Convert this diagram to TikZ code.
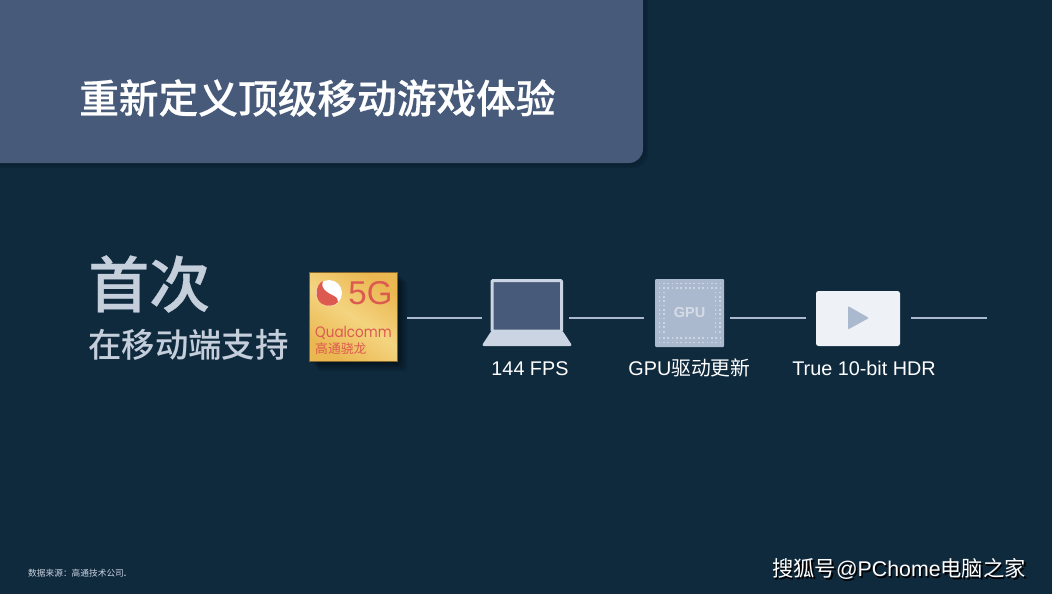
\documentclass[tikz,border=0pt]{standalone}
\usepackage{fontspec}
\setmainfont{Liberation Sans}
\newfontfamily\cjk{Noto Sans CJK SC}
\newfontfamily\cjkmed{Noto Sans CJK SC Medium}
\newfontfamily\cjkheavy{Noto Sans CJK SC Medium}[FakeBold=0.5]
\newfontfamily\logofont{Poppins}
\usetikzlibrary{positioning,calc}
\definecolor{slidebg}{HTML}{0F293D}
\definecolor{panelblue}{HTML}{475A7A}
\definecolor{railblue}{HTML}{ABB9CE}
\definecolor{palegrey}{HTML}{CBD4E2}
\definecolor{headgrey}{HTML}{C5CEDB}
\definecolor{chipred}{HTML}{DC5A50}
\definecolor{chipedge}{HTML}{EAB750}
\definecolor{chipmid}{HTML}{F4D480}
\definecolor{videowhite}{HTML}{EEF1F6}
\tikzset{
  caption/.style={text=white, font=\fontsize{19.8}{20}\selectfont, inner sep=0pt, text height=14pt, text depth=4pt},
  headline/.style={text=headgrey, inner sep=0pt, anchor=west},
  link/.style={draw=railblue, line width=2pt},
  softshadow/.style={fill=black, opacity=0.05, draw=none, rounded corners=2pt},
  gpudot/.style={fill=white, opacity=0.4},
}
\newcommand{\gpudotat}[2]{\fill[gpudot] (#1-0.9,#2-0.9) rectangle (#1+0.9,#2+0.9);}
\begin{document}
\begin{tikzpicture}[x=1pt, y=-1pt]
  \fill[slidebg] (0,0) rectangle (1052,594);
  \useasboundingbox (0,0) rectangle (1052,594);
  \coordinate (rail) at (0,318);

  % title panel
  \foreach \d in {1,3,5}
    \fill[black, opacity=0.08, rounded corners=14pt] (-30,-30) rectangle (643+\d,163+\d);
  \fill[panelblue, rounded corners=14pt] (-30,-30) rectangle (643,163);
  \node[anchor=west, text=white, inner sep=0pt, font=\fontsize{39.7}{40}\selectfont\cjkheavy] (title) at (79,98) {重新定义顶级移动游戏体验};

  % left text
  \node[headline, font=\fontsize{61}{61}\selectfont\cjkheavy] (first) at (88,284) {首次};
  \node[headline, font=\fontsize{33.4}{34}\selectfont\cjkmed] (support) at (88,345) {在移动端支持};

  % chip
  \foreach \d in {1,2,...,10}
    \fill[softshadow] (309+\d,272+\d) rectangle (397+\d,361+\d);
  \node[draw=chipedge!55!black, line width=0.6pt, minimum width=88pt, minimum height=89pt, inner sep=0pt,
    left color=chipedge, right color=chipedge, middle color=chipmid, shading angle=-35] (chip) at (353,316.5) {};
  \fill[white] (329,293) circle[radius=13];
  \fill[chipred] (323,281) .. controls (315,285) and (314,299) .. (322,304) .. controls (327,307) and (335,306) .. (338,302) .. controls (339,296) and (330,295) .. (327,292) .. controls (323,289) and (321,286) .. (323,281) -- cycle;
  \node[text=chipred, inner sep=0pt, font=\fontsize{33}{33}\selectfont] (fiveg) at (370.5,293) {5G};
  \node[text=chipred, inner sep=0pt, anchor=west, font=\fontsize{15.2}{16}\selectfont\logofont] (qualcomm) at (315,332.5) {\scalebox{0.89}[1]{Qualcomm}};
  \node[text=chipred, inner sep=0pt, anchor=west, font=\fontsize{12.8}{13}\selectfont\cjk] (snapdragon) at (315,349) {高通骁龙};

  % laptop
  \node[minimum width=90pt, minimum height=67pt, inner sep=0pt] (laptop) at (527,312.5) {};
  \draw[draw=palegrey, fill=panelblue, line width=3pt, rounded corners=1pt] (492,280.5) rectangle (561.5,331);
  \fill[palegrey, rounded corners=2.5pt] (492,330) -- (562,330) -- (572.5,346) -- (481.5,346) -- cycle;
  \node[caption, below=15pt of laptop.south, xshift=3pt] (fps) {144 FPS};

  % gpu
  \node[fill=railblue, rounded corners=1pt, minimum width=69pt, minimum height=68pt, inner sep=0pt] (gpu) at (689.5,313) {};
  \foreach \i in {0,...,14} {
    \gpudotat{659.5+\i*4.36}{283.5}
    \gpudotat{659.5+\i*4.36}{288}
    \gpudotat{659.5+\i*4.36}{338}
    \gpudotat{659.5+\i*4.36}{342.5}
  }
  \foreach \i in {0,...,9} {
    \gpudotat{659.5}{292.4+\i*4.36}
    \gpudotat{664}{292.4+\i*4.36}
    \gpudotat{715.5}{292.4+\i*4.36}
    \gpudotat{720}{292.4+\i*4.36}
  }
  \node[text=white, opacity=0.5, inner sep=0pt, font=\fontsize{14.5}{15}\selectfont\bfseries] (gpulabel) at (689.5,313) {GPU};
  \node[caption, below=14pt of gpu.south] (driver) {GPU{\cjk 驱动更新}};

  % video
  \node[fill=videowhite, rounded corners=2.5pt, minimum width=84pt, minimum height=55pt, inner sep=0pt] (video) at (858,318.5) {};
  \fill[railblue, rounded corners=1pt] (848,306) -- (869,318) -- (848,329.5) -- cycle;
  \node[caption, below=15pt of video.south, xshift=6pt] (hdr) {True 10-bit HDR};

  \coordinate (railend) at (987,318);
  \draw[link, shorten <=10pt, shorten >=0pt] (chip.east |- rail) -- (laptop.west |- rail);
  \draw[link, shorten <=-3pt, shorten >=11pt] (laptop.east |- rail) -- (gpu.west |- rail);
  \draw[link, shorten <=6pt, shorten >=10pt] (gpu.east |- rail) -- (video.west |- rail);
  \draw[link, shorten <=11pt] (video.east |- rail) -- (railend);

  % footer
  \node[anchor=west, text=palegrey, inner sep=0pt, font=\fontsize{8.7}{9}\selectfont\cjk] (source) at (28,573) {数据来源\char"FF1A 高通技术公司{\bfseries\rmfamily .}};
  \node[anchor=east, text=black, inner sep=0pt, font=\fontsize{21.3}{22}\selectfont] (marksoft) at (1027.5,570.5) {{\cjk 搜狐号}@PChome{\cjk 电脑之家}};
  \node[anchor=east, text=white, inner sep=0pt, font=\fontsize{21.3}{22}\selectfont] (mark) at (1026,569) {{\cjk 搜狐号}@PChome{\cjk 电脑之家}};
\end{tikzpicture}
\end{document}
